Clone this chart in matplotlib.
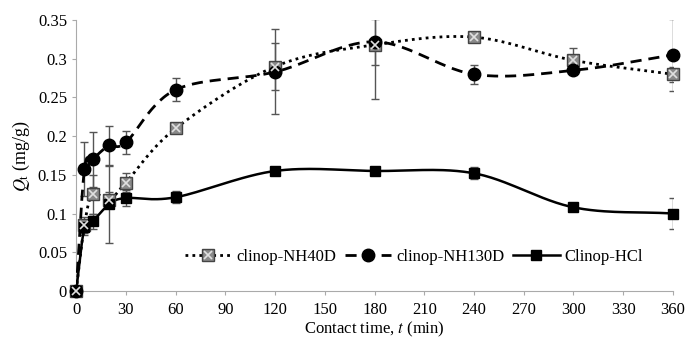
import matplotlib.pyplot as plt
import numpy as np
from matplotlib.lines import Line2D

plt.rcParams['font.family'] = 'Liberation Serif'
plt.rcParams['mathtext.fontset'] = 'stix'
plt.rcParams['font.size'] = 12

# Data
time = [0, 5, 10, 20, 30, 60, 120, 180, 240, 300, 360]
nh40d = [0, 0.085, 0.125, 0.118, 0.140, 0.210, 0.290, 0.318, 0.328, 0.298, 0.280]
nh40d_err = [0, 0.010, 0.025, 0.010, 0.012, 0.006, 0.030, 0.070, 0.006, 0.016, 0.010]
nh130d = [0, 0.157, 0.170, 0.188, 0.192, 0.260, 0.283, 0.322, 0.280, 0.285, 0.305]
nh130d_err = [0, 0.035, 0.036, 0.025, 0.015, 0.015, 0.055, 0.030, 0.012, 0.004, 0.047]
hcl = [0, 0.082, 0.090, 0.112, 0.120, 0.121, 0.155, 0.155, 0.152, 0.108, 0.100]
hcl_err = [0, 0.010, 0.010, 0.050, 0.010, 0.008, 0.003, 0.003, 0.008, 0.003, 0.020]


def smooth(x, y, n=30):
    # Catmull-Rom curve through the points (like Excel's smoothed line)
    x = np.asarray(x, float)
    y = np.asarray(y, float)
    px = np.concatenate([[2 * x[0] - x[1]], x, [2 * x[-1] - x[-2]]])
    py = np.concatenate([[2 * y[0] - y[1]], y, [2 * y[-1] - y[-2]]])
    xs, ys = [], []
    t = np.linspace(0, 1, n)
    for i in range(1, len(px) - 2):
        for p, out in ((px, xs), (py, ys)):
            p0, p1, p2, p3 = p[i - 1], p[i], p[i + 1], p[i + 2]
            m1 = (p2 - p0) / 2 / 3
            m2 = (p3 - p1) / 2 / 3
            c1 = p1 + m1
            c2 = p2 - m2
            out.extend((1 - t) ** 3 * p1 + 3 * (1 - t) ** 2 * t * c1
                       + 3 * (1 - t) * t ** 2 * c2 + t ** 3 * p2)
    return np.array(xs), np.array(ys)


fig, ax = plt.subplots(figsize=(6.86, 3.41), dpi=100)
fig.subplots_adjust(left=0.111, right=0.981, bottom=0.147, top=0.941)

ecol = '#555555'
# error bars
for y, e in ((nh40d, nh40d_err), (nh130d, nh130d_err), (hcl, hcl_err)):
    ax.errorbar(time, y, yerr=e, fmt='none', ecolor=ecol, elinewidth=1,
                capsize=3, capthick=1, zorder=2)

# lines
sx, sy = smooth(time, nh40d)
ax.plot(sx, sy, color='black', lw=2, linestyle=(0, (1, 1.5)), zorder=3)
sx, sy = smooth(time, nh130d)
ax.plot(sx, sy, color='black', lw=2, linestyle=(0, (4, 2.5)), zorder=3)
sx, sy = smooth(time, hcl)
ax.plot(sx, sy, color='black', lw=1.8, zorder=3)

# markers
ax.plot(time, nh40d, 's', ms=8, mfc='#8a8a8a', mec='#444444', mew=1,
        clip_on=False, zorder=4)
ax.plot(time, nh40d, 'x', ms=6, mec='#e0e0e0', mew=1.2, clip_on=False, zorder=5)
ax.plot(time, nh130d, 'o', ms=9, color='black', clip_on=False, zorder=4)
ax.plot(time, hcl, 's', ms=7, color='black', clip_on=False, zorder=4)

ax.set_xlim(0, 360)
ax.set_ylim(0, 0.35)
ax.set_xticks(np.arange(0, 361, 30))
ax.set_yticks(np.arange(0, 0.351, 0.05))
ax.set_yticklabels(['0', '0.05', '0.1', '0.15', '0.2', '0.25', '0.3', '0.35'])
for s in ['top', 'right']:
    ax.spines[s].set_visible(False)
for s in ['left', 'bottom']:
    ax.spines[s].set_color('#aaaaaa')
ax.tick_params(axis='both', length=3, color='#aaaaaa', labelsize=12)
ax.tick_params(axis='x', pad=5)
ax.set_xlabel('Contact time, $t$ (min)', fontsize=12, labelpad=1)
ax.set_ylabel('$Q_\\mathrm{t}$ (mg/g)', fontsize=13, labelpad=4)

h1 = (Line2D([], [], color='black', lw=2, linestyle=(0, (1, 1.5))),
      Line2D([], [], marker='s', ms=8, mfc='#8a8a8a', mec='#444444', ls='none'),
      Line2D([], [], marker='x', ms=6, mec='#e0e0e0', mew=1.2, ls='none'))
h2 = Line2D([], [], color='black', lw=2, linestyle=(0, (4, 2.5)), marker='o', ms=9)
h3 = Line2D([], [], color='black', lw=1.8, marker='s', ms=7)
ax.legend([h1, h2, h3], ['clinop-NH40D', 'clinop-NH130D', 'Clinop-HCl'],
          loc='lower right', bbox_to_anchor=(0.975, 0.04), ncol=3, frameon=False,
          handlelength=2.8, handletextpad=0.3, columnspacing=0.5, fontsize=12)

plt.savefig('out.png', dpi=100)
